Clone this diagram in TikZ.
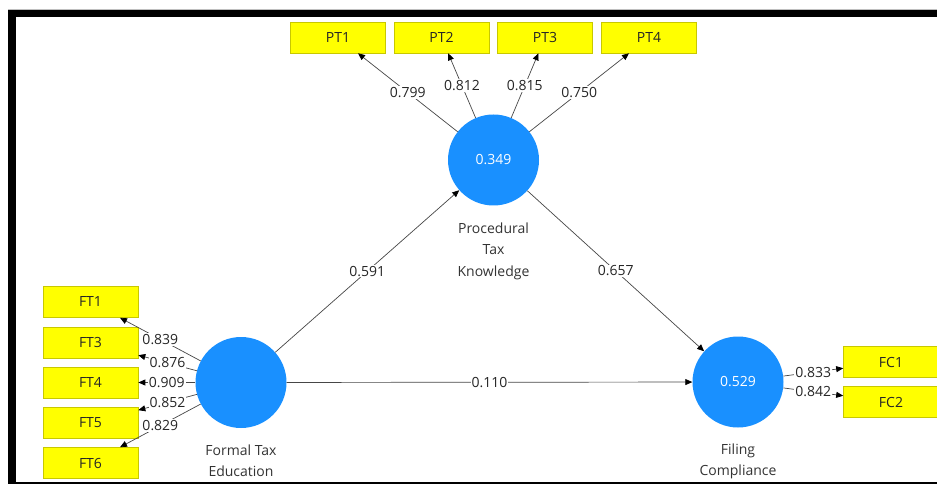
\documentclass[tikz,border=0pt]{standalone}
\usepackage{fontspec}
\setmainfont{Open Sans}
\usetikzlibrary{arrows.meta}
\definecolor{lvblue}{RGB}{25,144,255}
\definecolor{mvyellow}{RGB}{255,255,0}
\definecolor{mvedge}{RGB}{200,200,0}
\definecolor{loadgray}{RGB}{70,70,70}
\tikzset{
  lv/.style={circle, fill=lvblue, minimum size=91pt, inner sep=0pt, text=white},
  mv/.style={rectangle, fill=mvyellow, draw=mvedge, line width=0.6pt,
    minimum width=95pt, minimum height=31pt, inner sep=0pt, text=black!85},
  load/.style={draw=loadgray, line width=0.7pt,
    -{Triangle[length=7pt,width=6pt,color=black]}},
  wt/.style={fill=white, inner sep=1pt, text=black!85},
  lvname/.style={align=center, anchor=north, text=black!80,
    font=\fontsize{14}{21.5}\selectfont}
}
\begin{document}
\begin{tikzpicture}[x=1pt,y=-1pt, font=\fontsize{14}{17}\selectfont]
\useasboundingbox (0,0) rectangle (937,486);

% window frame
\draw[gray!50, line width=0.8pt] (8,9.5) -- (937,9.5);
\fill[black] (8,10) rectangle (937,17);
\fill[black] (8,10) rectangle (16,483);
\draw[black, line width=1.5pt] (8,483) -- (937,483);

% latent variables
\node[lv] (ptk) at (493.5,160) {0.349};
\node[lv] (fte) at (241,382.5) {};
\node[lv] (fc) at (738,382) {0.529};

\node[lvname] (ptkname) at (493.5,219) {Procedural\\Tax\\Knowledge};
\node[lvname] (ftename) at (241,441) {Formal Tax\\Education};
\node[lvname] (fcname) at (738,440) {Filing\\Compliance};

% indicators
\foreach \n/\x in {1/338,2/441.5,3/545,4/649}
  \node[mv] (pt\n) at (\x,37.5) {PT\n};
\foreach \n/\y in {1/302,3/342.5,4/382.5,5/423,6/463}
  \node[mv] (ft\n) at (90.5,\y) {FT\n};
\foreach \n/\y in {1/362,2/402}
  \node[mv] (fc\n) at (891,\y) {FC\n};

% outer loadings
\foreach \n/\w in {1/0.799,2/0.812,3/0.815,4/0.750}
  \draw[load] (ptk) -- node[wt] {\w} (pt\n);
\foreach \n/\w in {1/0.839,3/0.876,4/0.909,5/0.852,6/0.829}
  \draw[load] (fte) -- node[wt] {\w} (ft\n);
\foreach \n/\w in {1/0.833,2/0.842}
  \draw[load] (fc) -- node[wt] {\w} (fc\n);

% path coefficients
\draw[load] (fte) -- node[wt] {0.591} (ptk);
\draw[load] (ptk) -- node[wt] {0.657} (fc);
\draw[load] (fte) -- node[wt] {0.110} (fc);
\end{tikzpicture}
\end{document}
